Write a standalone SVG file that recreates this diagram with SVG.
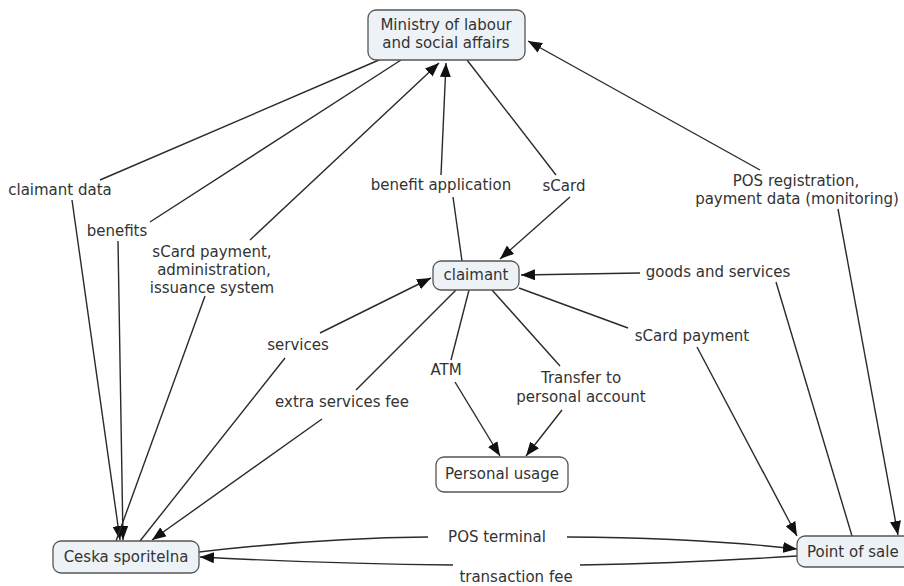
<svg xmlns="http://www.w3.org/2000/svg" width="904" height="586" viewBox="0 0 904 586">
<style>
text{font-family:"DejaVu Sans",Verdana,sans-serif;font-size:15px;fill:#333;text-anchor:middle}
.n rect{fill:#edf2f6;stroke:#555;stroke-width:1.3}
.n rect.w{fill:#fff}
.c path{fill:none;stroke:#2a2a2a;stroke-width:1.4}
.c path.a{marker-end:url(#ah)}
</style>
<defs>
<marker id="ah" markerUnits="userSpaceOnUse" markerWidth="15" markerHeight="11" refX="14" refY="5.5" orient="auto"><path d="M0,0 L14,5.5 L0,11 z" fill="#111"/></marker>
</defs>
<rect width="904" height="586" fill="#fff"/>
<g class="c">
<path d="M379,60 L100,180"/>
<path class="a" d="M72,200 L120,540"/>
<path d="M401,60 L150,222"/>
<path class="a" d="M118,241 L123,540"/>
<path d="M116,541 L205,296"/>
<path class="a" d="M250,240 L439,63"/>
<path d="M462,261 L453,197"/>
<path class="a" d="M441,175 L446,63"/>
<path d="M467,60 L556,175"/>
<path class="a" d="M570,197 L500,259"/>
<path class="a" d="M760,170 L528,41"/>
<path class="a" d="M838,209 L898,535"/>
<path d="M852,536 L776,282"/>
<path class="a" d="M640,273 L521,275"/>
<path d="M519,288 L628,328"/>
<path class="a" d="M697,347 L797,536"/>
<path d="M469,290 L451,360"/>
<path class="a" d="M455,382 L500,456"/>
<path d="M492,290 L560,366"/>
<path class="a" d="M562,410 L526,456"/>
<path d="M140,541 L285,358"/>
<path class="a" d="M320,333 L431,278"/>
<path d="M456,290 L356,390"/>
<path class="a" d="M322,419 L152,540"/>
<path d="M199,552 Q320,538 428,537"/>
<path class="a" d="M567,537 Q700,538 797,549"/>
<path d="M797,556 Q690,563 580,565"/>
<path class="a" d="M453,565 Q330,564 200,557"/>
</g>
<g class="labels">
<text x="60" y="195">claimant data</text>
<text x="117" y="236">benefits</text>
<text x="212" y="257">sCard payment,</text>
<text x="214" y="275">administration,</text>
<text x="212" y="293">issuance system</text>
<text x="441" y="190">benefit application</text>
<text x="564" y="191">sCard</text>
<text x="796" y="186">POS registration,</text>
<text x="797" y="204">payment data (monitoring)</text>
<text x="718" y="277">goods and services</text>
<text x="692" y="341">sCard payment</text>
<text x="298" y="350">services</text>
<text x="342" y="407">extra services fee</text>
<text x="446" y="375">ATM</text>
<text x="581" y="383">Transfer to</text>
<text x="581" y="402">personal account</text>
<text x="497" y="542">POS terminal</text>
<text x="516" y="582">transaction fee</text>
</g>
<g id="ministry" class="n"><rect x="368" y="10" width="157" height="50" rx="8"/><text x="446" y="30">Ministry of labour</text><text x="446" y="48">and social affairs</text></g>
<g id="claimant" class="n"><rect x="433" y="261" width="86" height="29" rx="8"/><text x="476" y="280">claimant</text></g>
<g id="personal-usage" class="n"><rect class="w" x="436" y="457" width="132" height="35" rx="8"/><text x="502" y="479">Personal usage</text></g>
<g id="ceska" class="n"><rect x="53" y="541" width="146" height="32" rx="8"/><text x="126" y="562">Ceska sporitelna</text></g>
<g id="point-of-sale" class="n"><rect x="797" y="536" width="120" height="31" rx="8"/><text x="807" y="557" style="text-anchor:start">Point of sale</text></g>
</svg>
